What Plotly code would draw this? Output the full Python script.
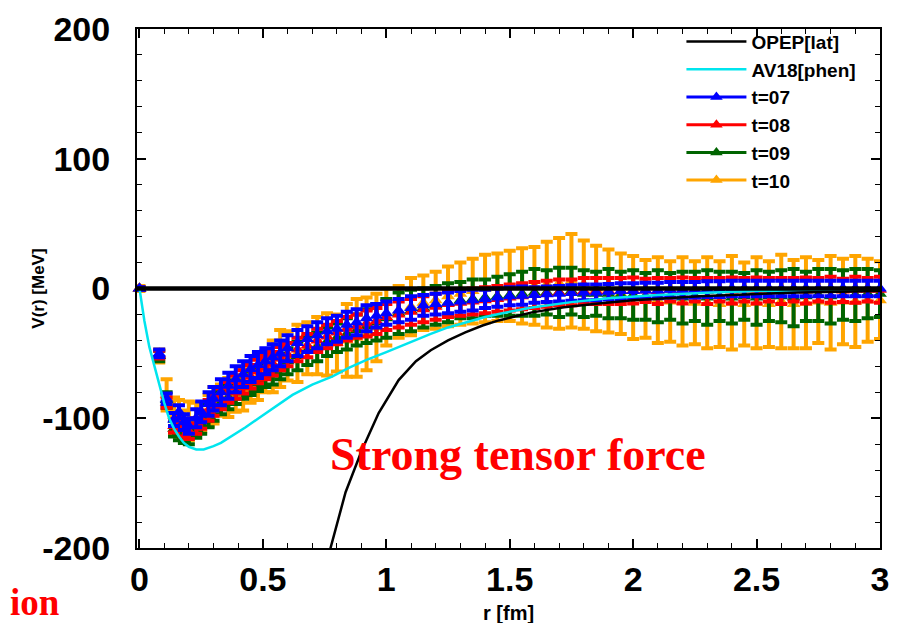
import plotly.graph_objects as go

# ---------------- data ----------------
R = [0, 0.08, 0.11, 0.14, 0.16, 0.18, 0.20, 0.23, 0.25, 0.28,
     0.30, 0.33, 0.36, 0.39, 0.42, 0.45, 0.48, 0.51, 0.54, 0.57,
     0.60, 0.64, 0.68, 0.72, 0.76, 0.80, 0.84, 0.88, 0.92, 0.96,
     1.00, 1.05, 1.10, 1.15, 1.20, 1.25, 1.30, 1.35, 1.40, 1.45,
     1.50, 1.55, 1.60, 1.65, 1.70, 1.75, 1.80, 1.85, 1.90, 1.95,
     2.00, 2.05, 2.10, 2.15, 2.20, 2.25, 2.30, 2.35, 2.40, 2.45,
     2.50, 2.55, 2.60, 2.65, 2.70, 2.75, 2.80, 2.85, 2.90, 2.95,
     3.00]

V_t07 = [0, -50, -85, -101, -95, -103, -106, -100, -95, -89,
         -85, -80, -75, -70, -66, -62, -59, -56, -53, -50,
         -46, -42, -39, -36, -33, -31, -28, -26, -23, -21,
         -19, -17, -15, -13, -12, -11, -10, -9, -8, -7,
         -6, -5.5, -5, -4.5, -4, -3.5, -3, -3, -2.5, -2,
         -2, -1.5, -1.5, -1, -1, -1, -0.5, -0.5, 0, 0,
         0, 0, 0, 0, 0, 0, 0, 0, 0, 0,
         0]
E_t07 = [1, 3, 4, 5, 5, 6, 6, 7, 8, 9,
         9, 10, 10, 10, 10, 10, 10, 10, 10, 10,
         10, 10, 10, 10, 10, 10, 10, 10, 10, 9,
         9, 9, 9, 8, 8, 8, 8, 8, 7, 7,
         7, 7, 6, 6, 6, 6, 6, 6, 6, 6,
         6, 6, 6, 6, 6, 6, 6, 6, 6, 6,
         6, 6, 6, 6, 6, 6, 6, 6, 6, 6,
         6]

V_t08 = [0, -51, -88, -106, -104, -108, -110, -106, -101, -94,
         -90, -85, -80, -76, -72, -68, -64, -61, -58, -54,
         -51, -47, -44, -40, -37, -34, -31, -29, -27, -25,
         -22, -20, -18, -16, -14, -12, -11, -10, -9, -8,
         -7, -6, -5, -4, -3, -3, -2, -2, -2, -2,
         -1.5, -1.5, -2, -1, -1.5, -1, -2, -1, -1.5, -1,
         -1.5, -1, -2, -1, -1.5, -1, -1, -1.5, -1, -1,
         -1]
E_t08 = [1, 3, 4, 5, 5, 6, 6, 6, 7, 8,
         8, 8, 8, 9, 9, 9, 9, 9, 9, 9,
         9, 9, 9, 9, 9, 9, 9, 9, 10, 10,
         10, 10, 10, 10, 10, 10, 10, 10, 10, 10,
         10, 10, 10, 10, 10, 10, 10, 10, 10, 10,
         10, 9, 10, 9, 10, 9, 10, 9, 10, 9,
         10, 9, 10, 9, 10, 9, 10, 9, 10, 9,
         10]

V_t09 = [0, -52, -86, -108, -110, -112, -113, -108, -104, -98,
         -93, -88, -84, -80, -76, -73, -70, -67, -64, -60,
         -56, -52, -48, -45, -41, -38, -35, -32, -29, -26,
         -23, -19, -17, -15, -13, -11, -9, -8, -7, -6,
         -5, -4, -3, -3, -3, -2, -4, -4, -4, -5,
         -5, -6, -6, -6, -7, -6, -7, -6, -7, -6,
         -7, -6, -6, -7, -6, -5, -6, -5, -5, -4,
         -4]
E_t09 = [1, 4, 6, 6, 7, 7, 7, 7, 8, 9,
         9, 9, 9, 9, 9, 9, 9, 9, 10, 10,
         10, 11, 11, 11, 11, 11, 12, 12, 13, 14,
         15, 16, 16, 15, 15, 15, 14, 15, 14, 15,
         16, 17, 18, 17, 19, 18, 18, 17, 19, 18,
         19, 18, 20, 18, 20, 19, 21, 19, 20, 18,
         21, 19, 20, 22, 19, 20, 21, 19, 20, 19,
         18]

V_t10 = [0, -52, -82, -98, -100, -106, -102, -100, -100, -94,
         -90, -86, -84, -82, -78, -74, -68, -64, -60, -54,
         -52, -50, -46, -44, -43, -42, -40, -38, -35, -30,
         -22, -18, -14, -11, -9, -6, -4, -2, 0, 1,
         2, 2, 2, 3, 4, 6, 3, 0, -2, -4,
         -7, -8, -9, -10, -10, -11, -11, -12, -11, -12,
         -11, -12, -10, -12, -11, -10, -11, -10, -10, -9,
         -9]
E_t10 = [2, 5, 12, 14, 14, 12, 15, 12, 10, 12,
         14, 12, 15, 13, 16, 14, 18, 16, 20, 22,
         19, 22, 20, 22, 24, 22, 28, 30, 28, 26,
         22, 20, 22, 21, 22, 23, 24, 25, 26, 26,
         27, 29, 30, 33, 35, 36, 34, 33, 32, 31,
         32, 30, 33, 31, 34, 32, 35, 33, 36, 32,
         35, 33, 36, 34, 35, 32, 36, 33, 35, 32,
         30]

R_av18 = [0, 0.02, 0.04, 0.06, 0.08, 0.10, 0.12, 0.14, 0.16, 0.18,
          0.20, 0.23, 0.26, 0.30, 0.33, 0.38, 0.43, 0.49, 0.55, 0.62,
          0.70, 0.78, 0.85, 0.92, 1.00, 1.05, 1.12, 1.18, 1.25, 1.32,
          1.40, 1.46, 1.59, 1.75, 1.90, 2.10, 2.30, 2.50, 2.75, 3.00]
V_av18 = [0, -25, -45, -60, -75, -88, -100, -108, -114, -119,
          -122, -124, -124, -121.5, -119, -113, -107, -99, -91, -82,
          -74, -68, -61, -55, -49, -45, -40, -35, -30, -26,
          -22, -19.4, -14.6, -10.5, -7.5, -5, -3.2, -2, -1, -0.5]

R_opep = [0.70, 0.774, 0.835, 0.90, 0.969, 1.05, 1.12, 1.18, 1.25, 1.32,
          1.39, 1.455, 1.59, 1.72, 1.86, 2.00, 2.27, 2.50, 2.67, 3.00]
V_opep = [-262, -200, -157, -125, -96, -70.6, -56, -47.6, -40, -33.8,
          -28.5, -24.6, -18.4, -14.5, -11.5, -9, -6, -4, -3, -2]

R_zero = [-0.01, 3.0]
V_zero = [0, 0]

Y_TICKS = [-200, -100, 0, 100, 200]
Y_TICK_LABELS = ["-200", "-100", "0", "100", "200"]
X_TICKS = [0, 0.5, 1, 1.5, 2, 2.5, 3]
X_TICK_LABELS = ["0", "0.5", "1", "1.5", "2", "2.5", "3"]

SERIES = [("t=07", V_t07, E_t07, "#0000ff"),
          ("t=08", V_t08, E_t08, "#ff0000"),
          ("t=09", V_t09, E_t09, "#006400"),
          ("t=10", V_t10, E_t10, "#ffa500")]

FONT = "Liberation Sans, Arial, sans-serif"
SERIF = "Liberation Serif, Times New Roman, serif"

# ---------------- figure ----------------
fig = go.Figure()

# data drawn with t=10 at the bottom and t=07 on top
for name, v, e, col in reversed(SERIES):
    fig.add_trace(go.Scatter(
        x=R, y=v, mode="markers", name=name, showlegend=False,
        marker=dict(symbol="triangle-up", size=12, color=col),
        error_y=dict(type="data", array=e, color=col, thickness=4, width=6),
        cliponaxis=False))

fig.add_trace(go.Scatter(x=R_av18, y=V_av18, mode="lines", name="AV18[phen]",
                         line=dict(color="#00e5ee", width=2.5), legendrank=2))
fig.add_trace(go.Scatter(x=R_opep, y=V_opep, mode="lines", name="OPEP[lat]",
                         line=dict(color="black", width=2.5), legendrank=1))
fig.add_trace(go.Scatter(x=R_zero, y=V_zero, mode="lines", showlegend=False,
                         line=dict(color="black", width=4.5)))

# legend entries for the lattice series
for i, (name, v, e, col) in enumerate(SERIES):
    fig.add_trace(go.Scatter(
        x=[None], y=[None], mode="lines+markers", name=name,
        line=dict(color=col, width=3),
        marker=dict(symbol="triangle-up", size=11, color=col),
        legendrank=3 + i))

tickfont = dict(family=FONT, size=34, color="black", weight="bold")

common_axis = dict(showgrid=False, zeroline=False, showline=True,
                   linecolor="black", linewidth=2, mirror="allticks",
                   ticks="inside", ticklen=9, tickwidth=1.5, tickcolor="black",
                   tickfont=tickfont, automargin=False)

# the page adds an 8px body margin, so the figure is 8px smaller each way
fig.update_layout(
    width=896, height=615,
    margin=dict(l=129, r=24, t=21, b=75),
    paper_bgcolor="white", plot_bgcolor="white",
    showlegend=True,
    legend=dict(x=0.975, xanchor="right", y=1.012, yanchor="top",
                bgcolor="rgba(0,0,0,0)", itemwidth=60, tracegroupgap=0,
                font=dict(family=FONT, size=19, color="black", weight="bold")),
    xaxis=dict(range=[-0.01, 3.0], tickvals=X_TICKS, ticktext=X_TICK_LABELS,
               minor=dict(dtick=0.1, tick0=0, ticks="inside", ticklen=5,
                          tickwidth=1.2, tickcolor="black", showgrid=False),
               ticklabelstandoff=0,
               **common_axis),
    yaxis=dict(range=[-200, 200], tickvals=Y_TICKS, ticktext=Y_TICK_LABELS,
               minor=dict(dtick=20, tick0=0, ticks="inside", ticklen=5,
                          tickwidth=1.2, tickcolor="black", showgrid=False),
               ticklabelstandoff=18,
               **common_axis),
    annotations=[
        dict(text="V(r) [MeV]", xref="paper", yref="paper",
             x=-0.133, y=0.5, textangle=-90, showarrow=False,
             xanchor="center", yanchor="middle",
             font=dict(family=FONT, size=17, color="black", weight="bold")),
        dict(text="r [fm]", xref="paper", yref="paper",
             x=0.5, y=-0.125, showarrow=False,
             xanchor="center", yanchor="middle",
             font=dict(family=FONT, size=20, color="black", weight="bold")),
        dict(text="Strong tensor force", xref="x", yref="y",
             x=1.535, y=-128, showarrow=False, xanchor="center",
             yanchor="middle",
             font=dict(family=SERIF, size=46, color="#ff0000", weight="bold")),
        dict(text="ion", xref="paper", yref="paper",
             x=-0.1736, y=-0.105, showarrow=False, xanchor="left",
             yanchor="middle",
             font=dict(family=SERIF, size=37, color="#ff0000", weight="bold")),
    ],
)

fig.write_html("out.html")
